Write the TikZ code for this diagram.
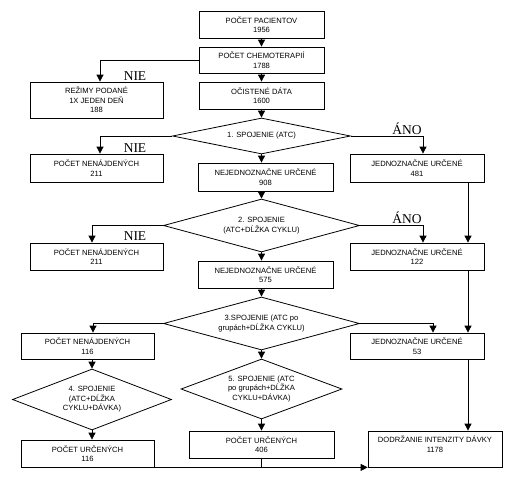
\documentclass[tikz,border=0pt]{standalone}
\usepackage{fontspec}
\setmainfont{Liberation Serif}
\setsansfont{Liberation Sans}
\usetikzlibrary{shapes.geometric,arrows.meta}

\tikzset{
	box/.style={shape=rectangle,draw=black,line width=0.8pt,align=center,inner sep=1pt,font=\sffamily\fontsize{7.6}{9.5}\selectfont},
	dec/.style={shape=diamond,draw=black,line width=0.8pt,align=center,inner sep=0pt,font=\sffamily\fontsize{7.6}{9.5}\selectfont},
	lbl/.style={font=\fontsize{13.5}{14}\selectfont},
	arr/.style={-{Triangle[width=7pt,length=7pt]},line width=0.8pt},
	line/.style={-,line width=0.8pt}
}

\begin{document}
\begin{tikzpicture}[x=1pt,y=-1pt]
	\useasboundingbox (0,0) rectangle (522,480);
	
	\node[box,minimum width=125pt,minimum height=27pt] (pac) at (261.5, 24.5) {POČET PACIENTOV\\1956};
	\node[box,minimum width=125pt,minimum height=26pt] (chemo) at (261.5, 60) {POČET CHEMOTERAPIÍ\\1788};
	\node[box,minimum width=133pt,minimum height=36pt] (rezimy) at (96.5, 100) {REŽIMY PODANÉ\\1X JEDEN DEŇ\\188};
	\node[box,minimum width=125pt,minimum height=27pt] (cist) at (261.5, 95.5) {OČISTENÉ DÁTA\\1600};
	\node[dec,aspect=4.9,minimum width=178pt,minimum height=36pt] (d1) at (261.5, 136) {1. SPOJENIE (ATC)};
	\node[box,minimum width=133pt,minimum height=28pt] (nenaj1) at (96.5, 168) {POČET NENÁJDENÝCH\\211};
	\node[box,minimum width=135pt,minimum height=28pt] (nejed1) at (265.5, 177) {NEJEDNOZNAČNE URČENÉ\\908};
	\node[box,minimum width=134pt,minimum height=28pt] (jed1) at (417, 168) {JEDNOZNAČNE URČENÉ\\481};
	\node[dec,aspect=3.7,minimum width=196pt,minimum height=53pt] (d2) at (261.5, 225.5) {2. SPOJENIE\\(ATC+DĹŽKA CYKLU)};
	\node[box,minimum width=133pt,minimum height=27pt] (nenaj2) at (96.5, 256.5) {POČET NENÁJDENÝCH\\211};
	\node[box,minimum width=134pt,minimum height=27pt] (jed2) at (417, 256.5) {JEDNOZNAČNE URČENÉ\\122};
	\node[box,minimum width=135pt,minimum height=27pt] (nejed2) at (265.5, 274.5) {NEJEDNOZNAČNE URČENÉ\\575};
	\node[dec,aspect=3.7,minimum width=196pt,minimum height=53pt] (d3) at (261.5, 323.5) {3.SPOJENIE (ATC po\\grupách+DĹŽKA CYKLU)};
	\node[box,minimum width=133pt,minimum height=26pt] (nenaj3) at (87.5, 346) {POČET NENÁJDENÝCH\\116};
	\node[box,minimum width=134pt,minimum height=26pt] (jed3) at (417, 346) {JEDNOZNAČNE URČENÉ\\53};
	\node[dec,aspect=2.6,minimum width=159pt,minimum height=61pt] (d4) at (92, 399.5) {4. SPOJENIE\\(ATC+DĹŽKA\\CYKLU+DÁVKA)};
	\node[dec,aspect=2.7,minimum width=161pt,minimum height=60pt] (d5) at (261.5, 389) {5. SPOJENIE (ATC\\po grupách+DĹŽKA\\CYKLU+DÁVKA)};
	\node[box,minimum width=133pt,minimum height=27pt] (urc4) at (87.5, 453.5) {POČET URČENÝCH\\116};
	\node[box,minimum width=145pt,minimum height=27pt] (urc5) at (261.5, 444.5) {POČET URČENÝCH\\406};
	\node[box,minimum width=134pt,minimum height=36pt] (dod) at (435, 449) {DODRŽANIE INTENZITY DÁVKY\\1178\\\mbox{}};
	
	\node[lbl] (nie1) at (135, 76.5) {NIE};
	\node[lbl] (nie2) at (135, 148.5) {NIE};
	\node[lbl] (ano1) at (407, 128.5) {ÁNO};
	\node[lbl] (nie3) at (135, 236) {NIE};
	\node[lbl] (ano2) at (407, 218) {ÁNO};
	
	\draw[arr] (pac) -- (chemo);
	\draw[arr] (chemo.west) -| ([xshift=3.5pt]rezimy.north);
	\draw[arr] (chemo) -- (cist);
	\draw[arr] (cist) -- (d1);
	\draw[arr] (d1.west) -| ([xshift=3.5pt]nenaj1.north);
	\draw[arr] (d1.east) -| ([xshift=6pt]jed1.north);
	\draw[arr] (d1.south) -- (d1.south |- nejed1.north);
	\draw[arr] (d1.south |- nejed1.south) -- (d2.north);
	\draw[arr] (d2.west) -| ([xshift=-4.5pt]nenaj2.north);
	\draw[arr] (d2.east) -| ([xshift=6pt]jed2.north);
	\draw[arr] ([xshift=51pt]jed1.south) -- ([xshift=51pt]jed2.north);
	\draw[arr] (d2.south) -- (d2.south |- nejed2.north);
	\draw[arr] (d2.south |- nejed2.south) -- (d3.north);
	\draw[arr] (d3.west) -| ([xshift=5.5pt]nenaj3.north);
	\draw[arr] (d3.east) -| ([xshift=16pt]jed3.north);
	\draw[arr] ([xshift=51pt]jed2.south) -- ([xshift=51pt]jed3.north);
	\draw[arr] (d3.south) -- (d5.north);
	\draw[arr] (d4.north |- nenaj3.south) -- (d4.north);
	\draw[arr] (d4.south) -- (d4.south |- urc4.north);
	\draw[arr] (d5.south) -- (urc5.north);
	\draw[arr] ([xshift=51pt]jed3.south) -- ([xshift=51pt]jed3.south |- dod.north);
	\draw[arr] (urc4.south east) -- (dod.south west);
	\draw[line] (urc5.south) -- (urc5.south |- dod.south);

\end{tikzpicture}
\end{document}
